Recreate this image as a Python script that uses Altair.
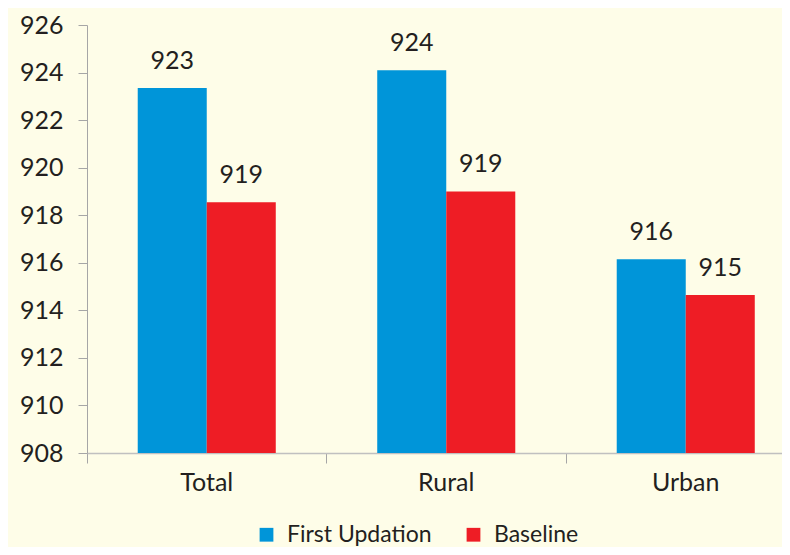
import altair as alt
import pandas as pd

categories = ["Total", "Rural", "Urban"]
series = ["First Updation", "Baseline"]
first_updation = [923.35, 924.1, 916.15]
baseline = [918.55, 919.0, 914.65]
y_ticks = [908, 910, 912, 914, 916, 918, 920, 922, 924, 926]

rows = []
for c, v in zip(categories, first_updation):
    rows.append({"cat": c, "series": series[0], "value": v})
for c, v in zip(categories, baseline):
    rows.append({"cat": c, "series": series[1], "value": v})
df = pd.DataFrame(rows)

FONT = "Lato"
TXT = "#231F20"

x = alt.X("cat:N", sort=categories, title=None,
          scale=alt.Scale(domain=categories, range=[0, 718.5], paddingInner=0, paddingOuter=0),
          axis=alt.Axis(bandPosition=0, labelAngle=0, tickSize=10,
                        tickColor="#A6A6A6", domainColor="#C0C0C0", domainWidth=1.5,
                        labelFontSize=25, labelFont=FONT, labelColor=TXT, labelPadding=7,
                        grid=False))
xo = alt.XOffset("series:N", sort=series,
                 scale=alt.Scale(domain=series, paddingOuter=0.735, paddingInner=0))
y = alt.Y("value:Q", title=None,
          scale=alt.Scale(domain=[908, 926], nice=False, zero=False),
          axis=alt.Axis(values=y_ticks, tickSize=9, tickColor="#A6A6A6", domainColor="#A6A6A6",
                        labelFontSize=25, labelFont=FONT, labelColor=TXT, labelPadding=15,
                        grid=False))
color = alt.Color("series:N", sort=series,
                  scale=alt.Scale(domain=series, range=["#0095D9", "#EE1D25"]),
                  legend=alt.Legend(title=None, orient="none", legendX=168, legendY=498,
                                    direction="horizontal", symbolType="square", symbolSize=190,
                                    symbolStrokeWidth=0, labelFontSize=23, labelFont=FONT,
                                    labelColor=TXT, columnPadding=30, labelOffset=9))

base_chart = alt.Chart(df)
bars = base_chart.mark_bar(opacity=1).encode(x=x, xOffset=xo, y=y, y2=alt.datum(908), color=color)
labels = base_chart.mark_text(baseline="alphabetic", dy=-19, fontSize=25, font=FONT, color=TXT).encode(
    x=x, xOffset=xo, y=y, text=alt.Text("value:Q", format=".0f"))

chart = (bars + labels).properties(
    width=695, height=428,
    autosize=alt.AutoSizeParams(type="none"),
    padding={"left": 79, "top": 17, "right": 0, "bottom": 94},
    background="#FEFDE8",
).configure_view(stroke=None)

chart.save("out.html", embed_options={"renderer": "svg", "actions": False})
